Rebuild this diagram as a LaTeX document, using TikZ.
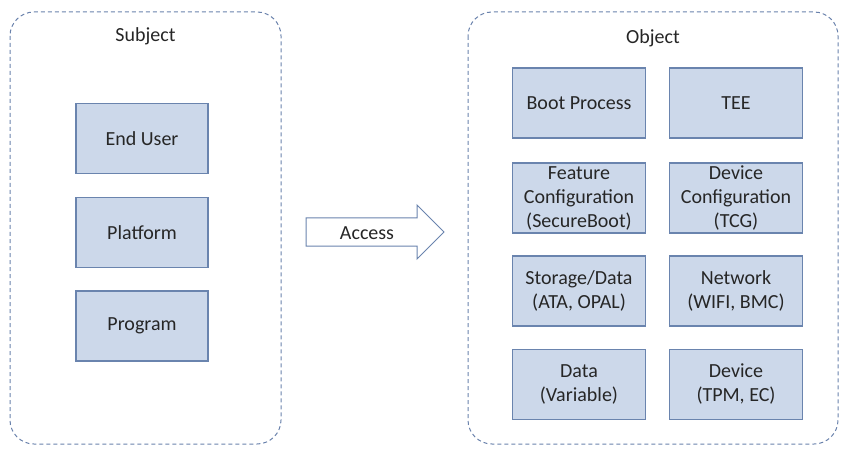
\documentclass[tikz,border=0pt]{standalone}
\usepackage{fontspec}
\setmainfont{Carlito}
\definecolor{boxfill}{HTML}{CCD8EA}
\definecolor{boxline}{HTML}{6A84AE}
\definecolor{dashline}{HTML}{6A82AC}
\definecolor{txt}{HTML}{262626}
\begin{document}
\begin{tikzpicture}[x=1pt,y=-1pt,
  every node/.style={text=txt,font=\fontsize{20}{24}\selectfont},
  container/.style={draw=dashline,line width=1pt,dash pattern=on 4pt off 3pt,rounded corners=24pt},
  itembox/.style={draw=boxline,fill=boxfill,line width=1.1pt,minimum height=70pt,align=center,inner sep=0pt},
  arrowshape/.style={draw=boxline,fill=white,line width=1pt,line join=miter}]
\useasboundingbox (0,0) rectangle (851,457);
% containers
\draw[container] (10,12) rectangle (281,444);
\draw[container] (468,12) rectangle (838,444);
\node (subj) at (145.5,36) {Subject};
\node (obj) at (653,38) {Object};
% left boxes
\node[itembox,minimum width=132pt] (eu) at (142,138.5) {End User};
\node[itembox,minimum width=132pt] (pf) at (142,232.5) {Platform};
\node[itembox,minimum width=132pt] (pg) at (142,326) {Program};
% right boxes
\node[itembox,minimum width=133pt] (bp) at (579,103) {Boot Process};
\node[itembox,minimum width=133pt] (tee) at (736,103) {TEE};
\node[itembox,minimum width=133pt] (fc) at (579,198) {Feature\\Configuration\\(SecureBoot)};
\node[itembox,minimum width=133pt] (dc) at (736,198) {Device\\Configuration\\(TCG)};
\node[itembox,minimum width=133pt] (sd) at (579,291) {Storage/Data\\(ATA, OPAL)};
\node[itembox,minimum width=133pt] (nw) at (736,291) {Network\\(WIFI, BMC)};
\node[itembox,minimum width=133pt] (dv) at (579,384.5) {Data\\(Variable)};
\node[itembox,minimum width=133pt] (dev) at (736,384.5) {Device\\(TPM, EC)};
% access arrow
\draw[arrowshape] (306,218) -- (417,218) -- (417,205) -- (444,232) -- (417,259) -- (417,246) -- (306,246) -- cycle;
\node (acc) at (367,233) {Access};
\end{tikzpicture}
\end{document}
